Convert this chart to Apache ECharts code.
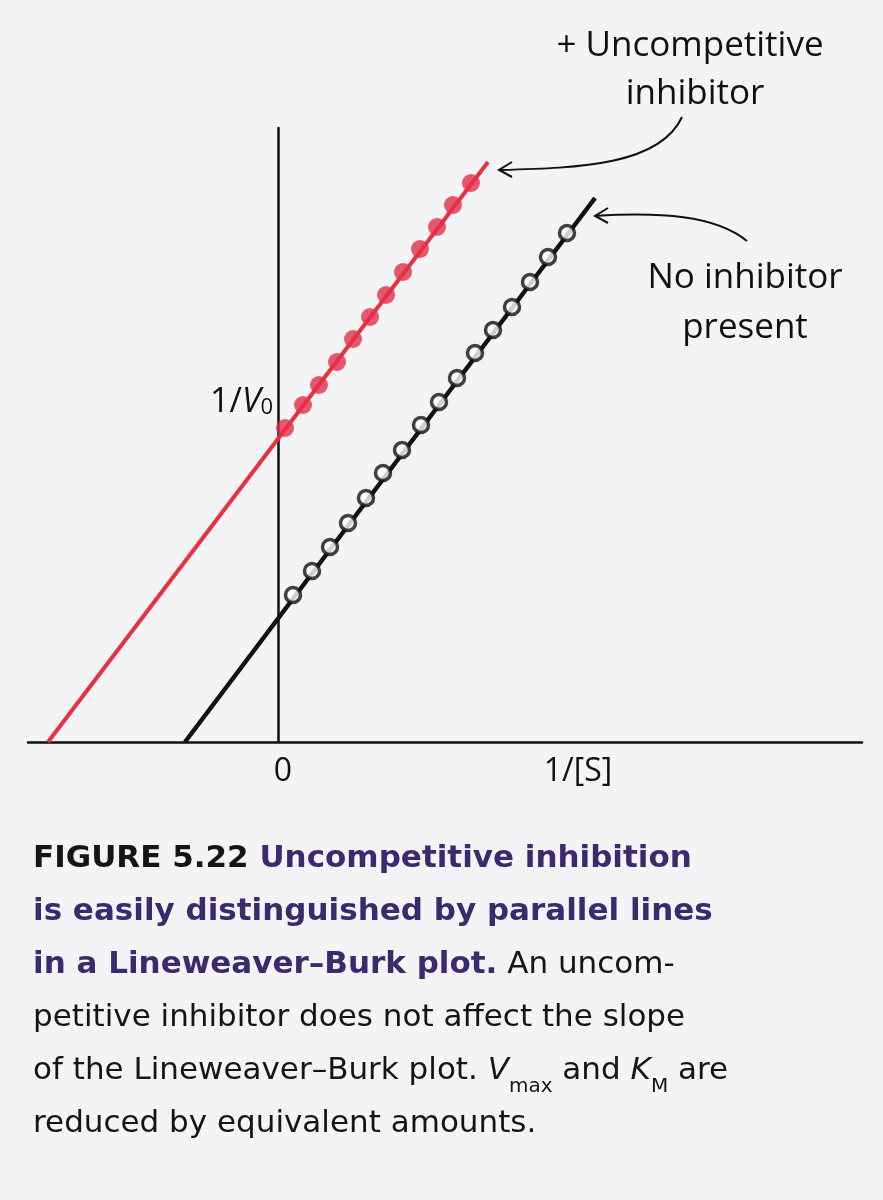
<!DOCTYPE html>
<html><head><meta charset="utf-8">
<script src="https://cdn.jsdelivr.net/npm/echarts@6/dist/echarts.min.js"></script>
<style>html,body{margin:0;padding:0;background:#f4f4f6}#c{width:883px;height:1200px}</style>
</head><body><div id="c"></div>
<script>
// Data (x = 1/[S], y = 1/V0, arbitrary units)
const inhibLine = [[-2.30, 0], [2.10, 5.80]];
const noInhibLine = [[-0.93, 0], [3.17, 5.44]];
const inhibX = [0.07,0.25,0.41,0.59,0.75,0.92,1.08,1.25,1.42,1.59,1.75,1.93];
const inhibY = [3.14,3.37,3.57,3.80,4.03,4.25,4.47,4.70,4.93,5.15,5.37,5.59];
const noX = [0.15,0.34,0.52,0.70,0.88,1.05,1.24,1.43,1.61,1.79,1.97,2.15,2.34,2.52,2.70,2.89];
const noY = [1.47,1.71,1.95,2.19,2.44,2.69,2.92,3.17,3.40,3.64,3.89,4.12,4.35,4.60,4.85,5.09];

const chart = echarts.init(document.getElementById('c'));
const F = '"Open Sans","Noto Sans",sans-serif';
const CF = '"DejaVu Sans",sans-serif';
const zip = (a,b)=>a.map((v,i)=>[v,b[i]]);
chart.setOption({
  backgroundColor:'#f4f4f6',
  animation:false,
  grid:{left:28,right:21,top:128,bottom:458},
  xAxis:{type:'value',min:-2.5,max:5.84,axisLine:{onZero:true,lineStyle:{color:'#111',width:2.5}},axisTick:{show:false},axisLabel:{show:false},splitLine:{show:false}},
  yAxis:{type:'value',min:0,max:6.14,axisLine:{show:true,onZero:true,lineStyle:{color:'#111',width:2.5}},axisTick:{show:false},axisLabel:{show:false},splitLine:{show:false}},
  series:[
    {type:'line',data:inhibLine,showSymbol:false,lineStyle:{color:'#e8303f',width:4},z:2},
    {type:'line',data:noInhibLine,showSymbol:false,lineStyle:{color:'#111',width:4.5},z:2},
    {type:'scatter',data:zip(inhibX,inhibY),symbol:'circle',symbolSize:18,itemStyle:{color:'#e3304a'},z:3},
    {type:'scatter',data:zip(noX,noY),symbol:'circle',symbolSize:15,itemStyle:{color:'#fff',borderColor:'#111',borderWidth:3.5},z:3}
  ],
  graphic:[
    {type:'text',left:210,top:385,style:{rich:{a:{font:'34px '+F,fill:'#111'},b:{font:'italic 34px '+F,fill:'#111'},s:{font:'22px '+F,fill:'#111',verticalAlign:'bottom'}},text:'{a|1/}{b|V}{s|0}'}},
    {type:'text',x:283,y:772,style:{text:'0',font:'32px '+F,fill:'#111',align:'center',verticalAlign:'middle'}},
    {type:'text',x:578,y:772,style:{text:'1/[S]',font:'32px '+F,fill:'#111',align:'center',verticalAlign:'middle'}},
    {type:'text',x:690,y:46,style:{text:'+ Uncompetitive',font:'35px '+F,fill:'#111',align:'center',verticalAlign:'middle'}},
    {type:'text',x:695,y:94,style:{text:'inhibitor',font:'35px '+F,fill:'#111',align:'center',verticalAlign:'middle'}},
    {type:'text',x:745,y:278,style:{text:'No inhibitor',font:'35px '+F,fill:'#111',align:'center',verticalAlign:'middle'}},
    {type:'text',x:745,y:328,style:{text:'present',font:'35px '+F,fill:'#111',align:'center',verticalAlign:'middle'}},
    {type:'bezierCurve',shape:{x1:682,y1:117,cpx1:660,cpy1:165,cpx2:580,cpy2:168,x2:500,y2:170},style:{stroke:'#111',lineWidth:2,fill:null}},
    {type:'polyline',shape:{points:[[512,162],[499,170],[512,177]]},style:{stroke:'#111',lineWidth:2,fill:null}},
    {type:'bezierCurve',shape:{x1:747,y1:241,cpx1:715,cpy1:215,cpx2:660,cpy2:212,x2:595,y2:216},style:{stroke:'#111',lineWidth:2,fill:null}},
    {type:'polyline',shape:{points:[[608,208],[595,216],[608,223]]},style:{stroke:'#111',lineWidth:2,fill:null}},
    {type:'text',left:33,top:832,style:{rich:{
        k:{font:'bold 31px '+CF,fill:'#151515'},
        p:{font:'bold 31px '+CF,fill:'#3b2a6e'},
        n:{font:'31px '+CF,fill:'#151515'},
        i:{font:'italic 31px '+CF,fill:'#151515'},
        s:{font:'20px '+CF,fill:'#151515',verticalAlign:'bottom'}},
      lineHeight:53,
      text:'{k|FIGURE 5.22}{p| Uncompetitive inhibition}\n{p|is easily distinguished by parallel lines}\n{p|in a Lineweaver–Burk plot.}{n| An uncom-}\n{n|petitive inhibitor does not affect the slope}\n{n|of the Lineweaver–Burk plot. }{i|V}{s|max}{n| and }{i|K}{s|M}{n| are}\n{n|reduced by equivalent amounts.}'}}
  ]
});
</script></body></html>
